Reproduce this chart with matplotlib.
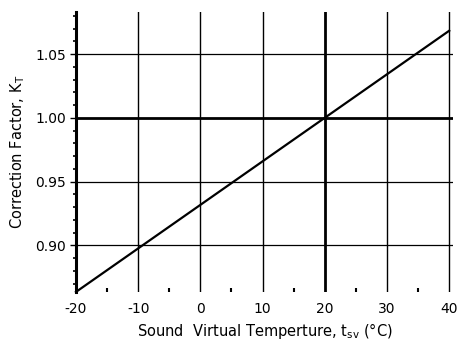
import matplotlib
matplotlib.use("Agg")
import matplotlib.pyplot as plt
from matplotlib.ticker import MultipleLocator

# sound virtual temperature (deg C) and correction factor
t_sv = [-20, 40]
k_t = [0.8636, 1.0683]

x_ticks = [-20, -10, 0, 10, 20, 30, 40]
y_ticks = [0.90, 0.95, 1.00, 1.05]
y_labels = ["0.90", "0.95", "1.00", "1.05"]

plt.rcParams["font.family"] = ["DejaVu Sans"]
plt.rcParams["axes.unicode_minus"] = False

fig = plt.figure(figsize=(4.66, 3.42), dpi=100)
ax = fig.add_axes([0.163, 0.146, 0.809, 0.819])

ax.set_xlim(-20, 40.6)
ax.set_ylim(0.8635, 1.083)

# grid
for x in x_ticks[1:]:
    lw = 2.0 if x == 20 else 1.0
    ax.axvline(x, color="black", lw=lw, zorder=1)
for y in y_ticks:
    lw = 2.0 if y == 1.00 else 0.9
    ax.axhline(y, color="black", lw=lw, zorder=1)

ax.plot(t_sv, k_t, color="black", lw=1.6, zorder=3, clip_on=False)

for s in ["top", "right", "bottom"]:
    ax.spines[s].set_visible(False)
ax.spines["left"].set_linewidth(2.2)

ax.set_xticks(x_ticks)
ax.set_yticks(y_ticks)
ax.set_yticklabels(y_labels)
ax.xaxis.set_minor_locator(MultipleLocator(5))
ax.yaxis.set_minor_locator(MultipleLocator(0.01))
ax.tick_params(axis="x", which="major", length=0, pad=7, labelsize=10)
ax.tick_params(axis="x", which="minor", direction="in", length=3, width=1.5)
ax.tick_params(axis="y", which="major", length=4, width=1, pad=3, labelsize=10)
ax.tick_params(axis="y", which="minor", length=2, width=1.2)

ax.set_xlabel(r"Sound  Virtual Temperture, $\mathregular{t_{sv}}$ (°C)", fontsize=10.5, labelpad=4)
ax.set_ylabel(r"Correction Factor, $\mathregular{K_T}$", fontsize=10.5, labelpad=6)

fig.savefig("out.png", dpi=100)
